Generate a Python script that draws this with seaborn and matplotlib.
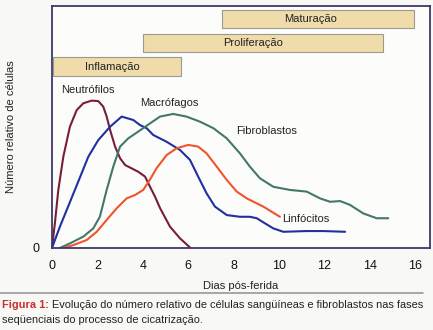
import matplotlib
matplotlib.use("Agg")
import matplotlib.pyplot as plt
from matplotlib.lines import Line2D
import seaborn as sns
import pandas as pd

# ---- data ----
neutro_x = [0, 0.13, 0.28, 0.50, 0.79, 1.09, 1.38, 1.75, 2.04, 2.26, 2.41, 2.56, 2.78, 3.0, 3.22,
            3.51, 3.80, 4.10, 4.32, 4.54, 4.76, 5.20, 5.64, 6.08]
neutro_y = [0, 10.3, 24.0, 37.7, 50.1, 57.0, 59.8, 60.9, 60.7, 58.4, 54.3, 48.8, 41.9, 37.1, 34.3,
            32.9, 31.5, 29.5, 25.3, 21.2, 16.5, 8.8, 4.0, 0.2]

macro_x = [0, 0.35, 0.65, 1.01, 1.60, 2.04, 2.56, 3.07, 3.58, 3.88, 4.17, 4.46, 5.05, 5.64, 6.08,
           6.44, 6.81, 7.18, 7.70, 8.28, 8.72, 9.02, 9.38, 9.75, 10.19, 11.22, 11.95, 12.91]
macro_y = [0, 8.8, 15.7, 24.0, 37.7, 44.6, 50.1, 54.3, 52.9, 50.8, 49.5, 46.7, 43.9, 40.5, 36.4,
           29.5, 22.6, 17.1, 13.6, 12.9, 12.9, 12.3, 10.2, 8.1, 6.7, 7.0, 7.0, 6.7]

fibro_x = [0.35, 0.79, 1.38, 1.82, 2.11, 2.41, 2.70, 3.0, 3.36, 3.80, 4.32, 4.76, 5.34, 5.93, 6.52,
           7.11, 7.70, 8.28, 8.72, 9.16, 9.75, 10.48, 11.22, 11.81, 12.25, 12.69, 13.13, 13.71,
           14.30, 14.81]
fibro_y = [0, 1.9, 4.7, 8.1, 12.9, 24.0, 33.6, 41.9, 45.3, 48.1, 51.5, 54.3, 55.4, 54.3, 52.2,
           49.5, 45.3, 39.1, 33.6, 28.8, 25.3, 24.0, 23.3, 20.5, 19.1, 19.4, 17.8, 14.3,
           12.3, 12.3]

linfo_x = [0.5, 0.94, 1.53, 1.97, 2.41, 2.85, 3.29, 3.66, 4.02, 4.30, 4.61, 5.05, 5.49, 6.0, 6.44,
           6.81, 7.26, 7.70, 8.14, 8.58, 9.31, 10.04]
linfo_y = [0, 1.2, 3.3, 6.7, 11.6, 16.4, 20.5, 21.9, 24.0, 28.0, 33.0, 38.4, 41.2, 42.6, 41.9,
           39.1, 33.6, 28.1, 23.3, 20.5, 17.1, 12.9]

fases = ["Inflamação", "Proliferação", "Maturação"]
fase_inicio = [0.05, 4.0, 7.5]
fase_fim = [5.7, 14.6, 15.95]

x_ticks = [0, 2, 4, 6, 8, 10, 12, 14, 16]

# ---- figure ----
sns.set_style("white")
plt.rcParams["font.family"] = ["Liberation Sans", "DejaVu Sans"]

bg = "#f8f8f6"
fig = plt.figure(figsize=(4.33, 3.30), dpi=100, facecolor=bg)
ax = fig.add_axes([0.120, 0.2485, 0.873, 0.7333], facecolor="#fcfcfb")

frames = []
for name, xs, ys in [("Neutrófilos", neutro_x, neutro_y),
                     ("Macrófagos", macro_x, macro_y),
                     ("Fibroblastos", fibro_x, fibro_y),
                     ("Linfócitos", linfo_x, linfo_y)]:
    frames.append(pd.DataFrame({"dia": xs, "valor": ys, "tipo": name}))
df = pd.concat(frames, ignore_index=True)

palette = {"Neutrófilos": "#7a1d3c", "Macrófagos": "#2030a0",
           "Fibroblastos": "#437868", "Linfócitos": "#f0542c"}
sns.lineplot(data=df, x="dia", y="valor", hue="tipo", palette=palette,
             sort=False, estimator=None, units="tipo", linewidth=1.5,
             legend=False, ax=ax)
for ln in ax.get_lines():
    ln.set_solid_joinstyle("round")
    ln.set_solid_capstyle("round")

# phase bars
bar_y = [75.0, 84.7, 94.6]
for nome, a, b, yy in zip(fases, fase_inicio, fase_fim, bar_y):
    ax.barh(yy, b - a, left=a, height=7.6, color="#f0dcab",
            edgecolor="#9a9a90", linewidth=0.8, zorder=3)
ax.text(2.64, bar_y[0], fases[0], ha="center", va="center", fontsize=8, color="#222", zorder=4)
ax.text(7.53, bar_y[1], fases[1], ha="left", va="center", fontsize=8, color="#222", zorder=4)
ax.text(11.4, bar_y[2], fases[2], ha="center", va="center", fontsize=8, color="#222", zorder=4)

# curve labels
ax.text(1.6, 65.3, "Neutrófilos", ha="center", va="center", fontsize=8, color="#222")
ax.text(5.15, 60.0, "Macrófagos", ha="center", va="center", fontsize=8, color="#222")
ax.text(9.45, 48.3, "Fibroblastos", ha="center", va="center", fontsize=8, color="#222")
ax.text(10.15, 12.0, "Linfócitos", ha="left", va="center", fontsize=8, color="#222")

ax.set_xlim(0, 16.65)
ax.set_ylim(0, 100)
ax.set_xticks(x_ticks)
ax.set_xticklabels([str(t) for t in x_ticks])
ax.set_yticks([0])
ax.set_yticklabels(["0"])
ax.tick_params(axis="both", direction="out", length=3, width=1, colors="#4a4470",
               labelcolor="#111", labelsize=9, pad=6)
for s in ax.spines.values():
    s.set_color("#3e3868")
    s.set_linewidth(1.3)
ax.set_xlabel("Dias pós-ferida", fontsize=8, color="#222", labelpad=6)
ax.set_ylabel("Número relativo de células", fontsize=8, color="#222", labelpad=12)

# caption rule and caption
fig.add_artist(Line2D([0.0, 0.977], [1 - 293 / 330, 1 - 293 / 330], color="#999",
                      linewidth=1.2, transform=fig.transFigure))
cap_fs = 7.9
t1 = fig.text(2 / 433, 1 - 305 / 330, "Figura 1:", fontsize=cap_fs, fontweight="bold",
              color="#c8302a", va="center", ha="left")
fig.canvas.draw()
bb = t1.get_window_extent(renderer=fig.canvas.get_renderer())
x2 = (bb.x1 + 3) / fig.bbox.width
fig.text(x2, 1 - 305 / 330,
         "Evolução do número relativo de células sangüíneas e fibroblastos nas fases",
         fontsize=cap_fs, color="#222", va="center", ha="left")
fig.text(2 / 433, 1 - 320 / 330, "seqüenciais do processo de cicatrização.",
         fontsize=cap_fs, color="#222", va="center", ha="left")

fig.savefig("out.png", dpi=100, facecolor=bg)
